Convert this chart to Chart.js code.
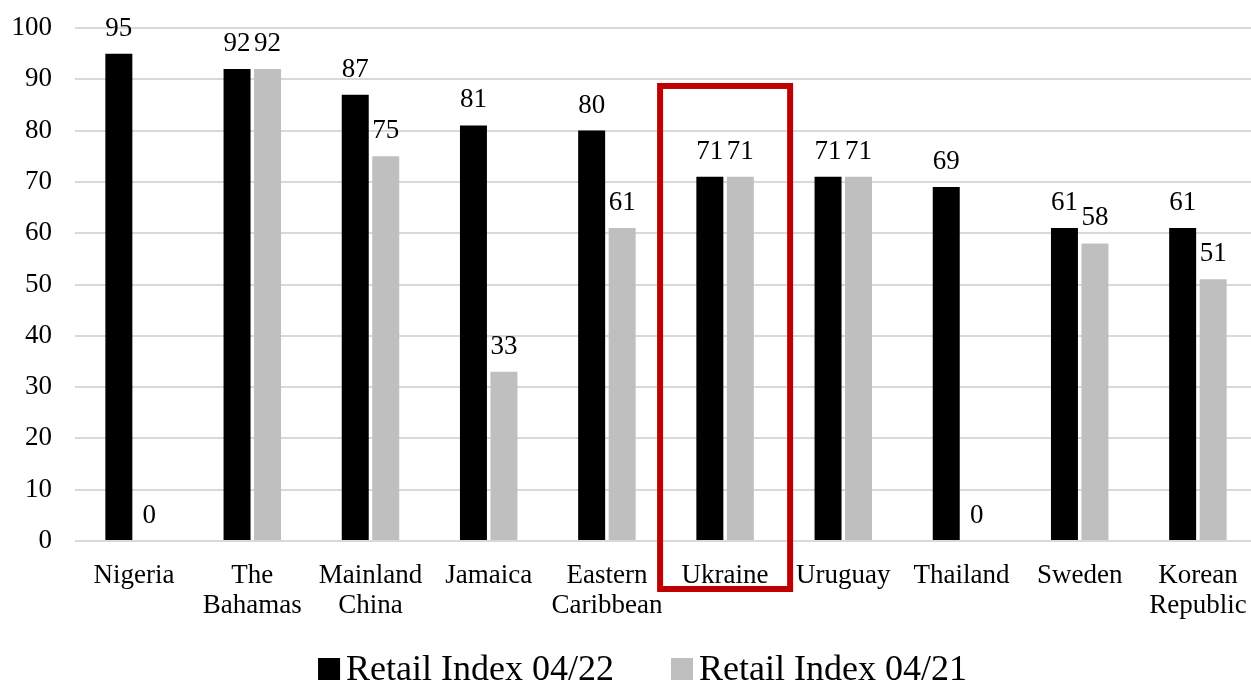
<!DOCTYPE html>
<html>
<head>
<meta charset="utf-8">
<script src="https://cdn.jsdelivr.net/npm/chart.js@4.4.1/dist/chart.umd.min.js"></script>
<style>
  html, body { margin: 0; padding: 0; background: #fff; overflow: hidden; }
  #wrap { width: 1257px; height: 682px; position: relative; }
</style>
</head>
<body>
<div id="wrap"><canvas id="myChart"></canvas></div>
<script>
var countries = ["Nigeria", ["The", "Bahamas"], ["Mainland", "China"], "Jamaica", ["Eastern", "Caribbean"],
    "Ukraine", "Uruguay", "Thailand", "Sweden", ["Korean", "Republic"]];
var retail2204 = [95, 92, 87, 81, 80, 71, 71, 69, 61, 61];
var retail2104 = [0, 92, 75, 33, 61, 71, 71, 0, 58, 51];
var yTicks = [0, 10, 20, 30, 40, 50, 60, 70, 80, 90, 100];
var highlight = 5; // Ukraine

var serif = "'Liberation Serif', 'Times New Roman', serif";

// labels above bars
var barLabels = {
    id: "barLabels",
    afterDatasetsDraw: function (chart) {
        var ctx = chart.ctx;
        ctx.save();
        ctx.font = "27px " + serif;
        ctx.fillStyle = "#000";
        ctx.textAlign = "center";
        ctx.textBaseline = "alphabetic";
        chart.data.datasets.forEach(function (ds, i) {
            chart.getDatasetMeta(i).data.forEach(function (bar, j) {
                ctx.fillText(ds.data[j], bar.x, bar.y - 18);
            });
        });
        ctx.restore();
    }
};

// red box round the highlighted country
var redBox = {
    id: "redBox",
    afterDraw: function (chart) {
        var x = chart.scales.x, y = chart.scales.y;
        var w = x.width / countries.length;
        var cx = x.getPixelForValue(highlight);
        var left = cx - 0.55 * w, right = cx + 0.55 * w;
        var top = y.getPixelForValue(88.7), bottom = y.getPixelForValue(0) + 48;
        var ctx = chart.ctx;
        ctx.save();
        ctx.strokeStyle = "#C00000";
        ctx.lineWidth = 6;
        ctx.strokeRect(left, top, right - left, bottom - top);
        ctx.restore();
    }
};

// legend at the bottom, small gap between square and text
var bottomLegend = {
    id: "bottomLegend",
    afterDraw: function (chart) {
        var ctx = chart.ctx;
        var box = 22, gap = 6, between = 57;
        ctx.save();
        ctx.font = "36px " + serif;
        var items = chart.data.datasets.map(function (ds) {
            return { text: ds.label, color: ds.backgroundColor, w: ctx.measureText(ds.label).width };
        });
        var total = 0;
        items.forEach(function (it, i) { total += box + gap + it.w + (i ? between : 0); });
        var xx = chart.width / 2 + 14 - total / 2;
        var base = chart.height - 2;
        ctx.textBaseline = "alphabetic";
        ctx.textAlign = "left";
        items.forEach(function (it) {
            ctx.fillStyle = it.color;
            ctx.fillRect(xx, base - box, box, box);
            ctx.fillStyle = "#000";
            ctx.fillText(it.text, xx + box + gap, base);
            xx += box + gap + it.w + between;
        });
        ctx.restore();
    }
};

function noPadding(scale) {
    scale.paddingLeft = 0;
    scale.paddingRight = 0;
    scale.paddingTop = 0;
    scale.paddingBottom = 0;
}

new Chart("myChart", {
    type: "bar",
    data: {
        labels: countries,
        datasets: [{
            label: "Retail Index 04/22",
            data: retail2204,
            backgroundColor: "#000000"
        }, {
            label: "Retail Index 04/21",
            data: retail2104,
            backgroundColor: "#BFBFBF"
        }]
    },
    options: {
        responsive: true,
        maintainAspectRatio: false,
        animation: false,
        layout: { padding: { top: 28, left: 12, right: 0, bottom: 61 } },
        datasets: {
            bar: { categoryPercentage: 0.516, barPercentage: 0.885 }
        },
        scales: {
            x: {
                grid: { display: false, drawTicks: false },
                border: { display: false },
                afterFit: function (scale) { scale.height = 80; noPadding(scale); },
                ticks: {
                    color: "#000",
                    font: { family: serif, size: 27, lineHeight: 1.1 },
                    maxRotation: 0,
                    autoSkip: false,
                    padding: 20
                }
            },
            y: {
                min: 0,
                max: 100,
                afterBuildTicks: function (axis) {
                    axis.ticks = yTicks.map(function (v) { return { value: v }; });
                },
                afterFit: function (scale) { scale.width = 63; noPadding(scale); },
                grid: { color: "#D9D9D9", lineWidth: 2, drawTicks: false },
                border: { display: false },
                ticks: {
                    color: "#000",
                    font: { family: serif, size: 27 },
                    padding: 23
                }
            }
        },
        plugins: {
            legend: { display: false },
            tooltip: { enabled: false }
        }
    },
    plugins: [barLabels, redBox, bottomLegend]
});
</script>
</body>
</html>
